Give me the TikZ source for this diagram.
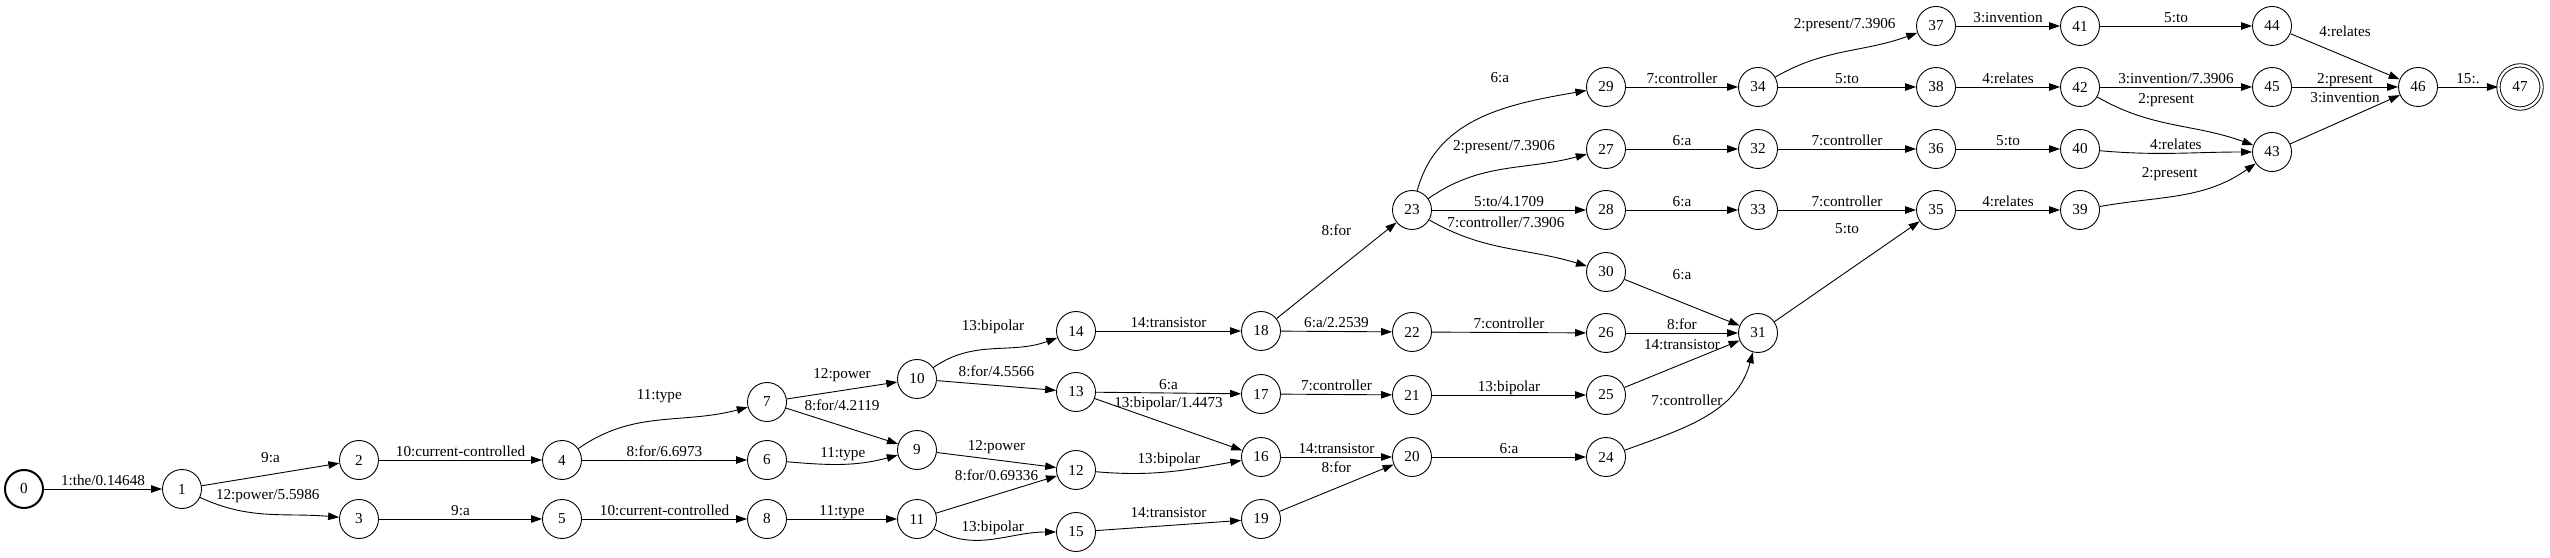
\documentclass[tikz,border=0pt]{standalone}
\usepackage{fontspec}
\setmainfont{Liberation Serif}
\usetikzlibrary{arrows.meta}
\newcommand{\fstfont}{\fontsize{15.2}{18}\selectfont}

\begin{document}
\begin{tikzpicture}[x=1pt,y=1pt]
\useasboundingbox (0,0) rectangle (2550,557);
\begin{scope}[every node/.style={circle,draw,line width=0.9pt,minimum size=39pt,inner sep=0pt,font=\fstfont}]
    %states, one column per rank, left to right
    %start state has a heavy ring, final state a double one
    \node[line width=2pt,minimum size=38pt] (0) at (24,68) {0};
    \node (1) at (182,68) {1};
    \node (2) at (359,97) {2};
    \node (3) at (359,38) {3};
    \node (4) at (562,97) {4};
    \node (5) at (562,38) {5};
    \node (7) at (767,155) {7};
    \node (6) at (767,97) {6};
    \node (8) at (767,38) {8};
    \node (10) at (917,178) {10};
    \node (9) at (917,107) {9};
    \node (11) at (917,38) {11};
    \node (14) at (1076,226) {14};
    \node (13) at (1076,165) {13};
    \node (12) at (1076,87) {12};
    \node (15) at (1076,25) {15};
    \node (18) at (1261,226) {18};
    \node (17) at (1261,163) {17};
    \node (16) at (1261,100) {16};
    \node (19) at (1261,38) {19};
    \node (23) at (1412,347) {23};
    \node (22) at (1412,225) {22};
    \node (21) at (1412,162) {21};
    \node (20) at (1412,100) {20};
    \node (29) at (1606,470) {29};
    \node (27) at (1606,408) {27};
    \node (28) at (1606,347) {28};
    \node (30) at (1606,285) {30};
    \node (26) at (1606,224) {26};
    \node (25) at (1606,162) {25};
    \node (24) at (1606,100) {24};
    \node (34) at (1758,470) {34};
    \node (32) at (1758,408) {32};
    \node (33) at (1758,347) {33};
    \node (31) at (1758,224) {31};
    \node (37) at (1936,531) {37};
    \node (38) at (1936,470) {38};
    \node (36) at (1936,408) {36};
    \node (35) at (1936,347) {35};
    \node (41) at (2080,531) {41};
    \node (42) at (2080,470) {42};
    \node (40) at (2080,408) {40};
    \node (39) at (2080,347) {39};
    \node (44) at (2272,531) {44};
    \node (45) at (2272,470) {45};
    \node (43) at (2272,405) {43};
    \node (46) at (2418,470) {46};
    \node[double,double distance=2.4pt,minimum size=43.2pt] (47) at (2520,470) {47};
\end{scope}

%arcs, label sits above each one (shifted where it would hit a line)
\begin{scope}[>={Triangle[length=11pt,width=7.5pt]},
              every node/.style={font=\fstfont,inner sep=0.5pt,text height=10pt,text depth=3pt,above},
              every edge/.style={draw,line width=0.9pt}]
    \path [->] (0) edge node{1:the/0.14648} (1);
    \path [->] (1) edge node[above=8pt]{9:a} (2);
    \path [->] (1) edge[out=-25,in=175] node[above=11pt]{12:power/5.5986} (3);
    \path [->] (2) edge node{10:current-controlled} (4);
    \path [->] (3) edge node{9:a} (5);
    \path [->] (4) edge[out=35,in=195] node[above=16pt]{11:type} (7);
    \path [->] (4) edge node{8:for/6.6973} (6);
    \path [->] (5) edge node{10:current-controlled} (8);
    \path [->] (7) edge node[above=8pt]{12:power} (10);
    \path [->] (7) edge node[above=12pt]{8:for/4.2119} (9);
    \path [->] (6) edge[out=-5,in=195] node[above=3pt]{11:type} (9);
    \path [->] (8) edge node{11:type} (11);
    \path [->] (10) edge[out=35,in=200] node[above=14pt]{13:bipolar} (14);
    \path [->] (10) edge node[above=5pt]{8:for/4.5566} (13);
    \path [->] (9) edge node[above=6pt]{12:power} (12);
    \path [->] (11) edge node[above=10pt]{8:for/0.69336} (12);
    \path [->] (11) edge[out=-30,in=180] node[above=4pt]{13:bipolar} (15);
    \path [->] (14) edge node{14:transistor} (18);
    \path [->] (13) edge node{6:a} (17);
    \path [->] (13) edge node[above=13pt]{13:bipolar/1.4473} (16);
    \path [->] (12) edge[out=-5,in=190] node[above=4pt]{13:bipolar} (16);
    \path [->] (15) edge node[above=4pt]{14:transistor} (19);
    \path [->] (18) edge node[above=31pt]{8:for} (23);
    \path [->] (18) edge node{6:a/2.2539} (22);
    \path [->] (17) edge node{7:controller} (21);
    \path [->] (16) edge node{14:transistor} (20);
    \path [->] (19) edge node[above=12pt]{8:for} (20);
    \path [->] (23) edge[out=75,in=190] node[pos=0.6,above=24pt]{6:a} (29);
    \path [->] (23) edge[out=35,in=195] node[above=14pt]{2:present/7.3906} (27);
    \path [->] (23) edge node{5:to/4.1709} (28);
    \path [->] (23) edge[out=-30,in=163] node[above=17pt]{7:controller/7.3906} (30);
    \path [->] (22) edge node{7:controller} (26);
    \path [->] (21) edge node{13:bipolar} (25);
    \path [->] (20) edge node{6:a} (24);
    \path [->] (29) edge node{7:controller} (34);
    \path [->] (27) edge node{6:a} (32);
    \path [->] (28) edge node{6:a} (33);
    \path [->] (30) edge node[above=19pt]{6:a} (31);
    \path [->] (26) edge node{8:for} (31);
    \path [->] (25) edge node[above=11pt]{14:transistor} (31);
    \path [->] (24) edge[out=20,in=-105] node[anchor=center,xshift=-18pt,yshift=14pt]{7:controller} (31);
    \path [->] (34) edge[out=30,in=200] node[above=19pt]{2:present/7.3906} (37);
    \path [->] (34) edge node{5:to} (38);
    \path [->] (32) edge node{7:controller} (36);
    \path [->] (33) edge node{7:controller} (35);
    \path [->] (31) edge node[above=34pt]{5:to} (35);
    \path [->] (37) edge node{3:invention} (41);
    \path [->] (38) edge node{4:relates} (42);
    \path [->] (36) edge node{5:to} (40);
    \path [->] (35) edge node{4:relates} (39);
    \path [->] (41) edge node{5:to} (44);
    \path [->] (42) edge node{3:invention/7.3906} (45);
    \path [->] (42) edge[out=-30,in=160] node[pos=0.45,above=16pt]{2:present} (43);
    \path [->] (40) edge[out=-5,in=180] node{4:relates} (43);
    \path [->] (39) edge[out=10,in=215] node[pos=0.42,above=15pt]{2:present} (43);
    \path [->] (44) edge node[above=16pt]{4:relates} (46);
    \path [->] (45) edge node{2:present} (46);
    \path [->] (43) edge node[above=13pt]{3:invention} (46);
    \path [->] (46) edge node{15:.} (47);
\end{scope}
\end{tikzpicture}
\end{document}
